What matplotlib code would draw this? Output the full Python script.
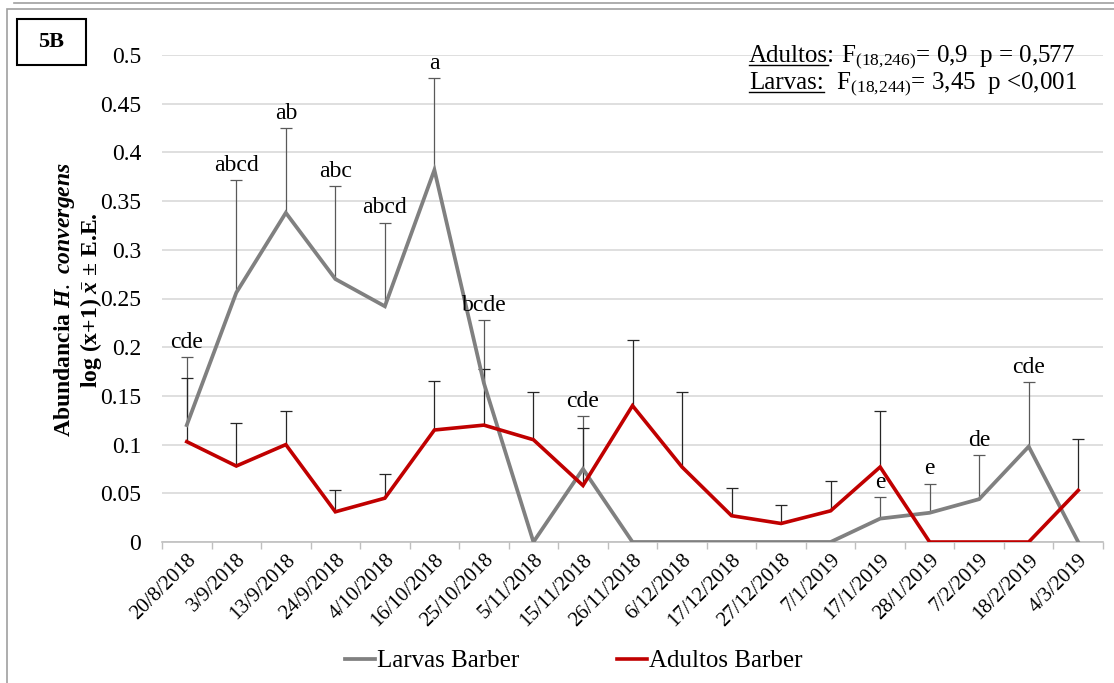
import numpy as np
import matplotlib
matplotlib.use("Agg")
import matplotlib.pyplot as plt
from matplotlib.lines import Line2D
from matplotlib.patches import Rectangle

plt.rcParams['font.family'] = ['Liberation Serif', 'DejaVu Serif']
plt.rcParams['mathtext.fontset'] = 'custom'
plt.rcParams['mathtext.rm'] = 'Liberation Serif'
plt.rcParams['mathtext.it'] = 'Liberation Serif:italic:bold'
plt.rcParams['mathtext.bf'] = 'Liberation Serif:bold'

fechas = ["20/8/2018", "3/9/2018", "13/9/2018", "24/9/2018", "4/10/2018",
          "16/10/2018", "25/10/2018", "5/11/2018", "15/11/2018", "26/11/2018",
          "6/12/2018", "17/12/2018", "27/12/2018", "7/1/2019", "17/1/2019",
          "28/1/2019", "7/2/2019", "18/2/2019", "4/3/2019"]

larvas = [0.120, 0.256, 0.338, 0.270, 0.242, 0.382, 0.163, 0.0, 0.075, 0.0,
          0.0, 0.0, 0.0, 0.0, 0.024, 0.030, 0.044, 0.098, 0.0]
larvas_ee = [0.070, 0.116, 0.087, 0.095, 0.086, 0.094, 0.065, 0.0, 0.054, 0.0,
             0.0, 0.0, 0.0, 0.0, 0.022, 0.030, 0.045, 0.066, 0.0]

adultos = [0.103, 0.078, 0.100, 0.031, 0.045, 0.115, 0.120, 0.105, 0.058, 0.140,
           0.077, 0.027, 0.019, 0.032, 0.077, 0.0, 0.0, 0.0, 0.053]
adultos_ee = [0.065, 0.044, 0.035, 0.022, 0.025, 0.050, 0.058, 0.049, 0.059, 0.067,
              0.077, 0.028, 0.019, 0.031, 0.057, 0.0, 0.0, 0.0, 0.053]

letras = {0: "cde", 1: "abcd", 2: "ab", 3: "abc", 4: "abcd", 5: "a", 6: "bcde",
          8: "cde", 14: "e", 15: "e", 16: "de", 17: "cde"}

fig = plt.figure(figsize=(11.14, 6.83), dpi=100)
ax = fig.add_axes([162 / 1114, 141 / 683, 941 / 1114, 487 / 683])

x = np.arange(len(fechas))
gris = '#808080'
rojo = '#c00000'

# upper-only error bars, skipped where the standard error is zero
def barras(vals, ee, color):
    vals = np.asarray(vals)
    ee = np.asarray(ee)
    m = ee > 0
    _, caps, _ = ax.errorbar(x[m], vals[m], yerr=[np.zeros(m.sum()), ee[m]],
                             fmt='none', ecolor=color, elinewidth=0.9,
                             capsize=4.5, capthick=0.9, zorder=2)
    caps[0].set_visible(False)

barras(larvas, larvas_ee, '#595959')
barras(adultos, adultos_ee, '#262626')

ax.plot(x, larvas, color=gris, lw=2.7, zorder=3, solid_joinstyle='miter')
ax.plot(x, adultos, color=rojo, lw=2.6, zorder=4, solid_joinstyle='miter')

for i, txt in letras.items():
    ax.annotate(txt, (x[i], larvas[i] + larvas_ee[i]), xytext=(0, 3),
                textcoords='offset points', ha='center', va='bottom', fontsize=17)

ax.set_xlim(-0.5, len(fechas) - 0.5)
ax.set_ylim(0, 0.5)
ax.set_yticks(np.arange(0, 0.501, 0.05))
ax.set_yticklabels(["0", "0.05", "0.1", "0.15", "0.2", "0.25", "0.3", "0.35",
                    "0.4", "0.45", "0.5"], fontsize=17)
ax.yaxis.grid(True, color='#d9d9d9', lw=1.2)
ax.set_axisbelow(True)
ax.tick_params(axis='y', length=0, pad=15)

ax.set_xticks(x)
ax.set_xticklabels(fechas, rotation=45, ha='right', rotation_mode='anchor',
                   fontsize=15)
ax.tick_params(axis='x', length=0, pad=6)
ax.set_xticks(np.arange(-0.5, len(fechas)), minor=True)
ax.tick_params(axis='x', which='minor', length=5, color='#bfbfbf', width=1)

for s in ['top', 'right', 'left']:
    ax.spines[s].set_visible(False)
ax.spines['bottom'].set_color('#bfbfbf')
ax.spines['bottom'].set_linewidth(1.2)

# axis title in two lines
fig.text(65 / 1114, 1 - 300 / 683, r"Abundancia $\mathit{H.\ convergens}$",
         rotation=90, ha='center', va='center', fontsize=17, fontweight='bold')
fig.text(91 / 1114, 1 - 300 / 683, r"log (x+1) $\bar{x}$ ± E.E.",
         rotation=90, ha='center', va='center', fontsize=17, fontweight='bold')

# panel tag
fig.patches.append(Rectangle((17 / 1114, 1 - 65 / 683), 69 / 1114, 46 / 683,
                             transform=fig.transFigure, fill=False,
                             edgecolor='black', lw=1.5))
fig.text(51 / 1114, 1 - 42 / 683, "5B", ha='center', va='center',
         fontsize=16, fontweight='bold')

# outer frames
fig.patches.append(Rectangle((7 / 1114, -0.01), 1.2, 1 - 9 / 683 + 0.01,
                             transform=fig.transFigure, fill=False,
                             edgecolor='#a0a0a0', lw=1.2))
fig.add_artist(Line2D([14 / 1114, 1.0], [1 - 3 / 683, 1 - 3 / 683],
                      transform=fig.transFigure, color='#a0a0a0', lw=1.2))

# ANOVA summary with underlined group names
fig.canvas.draw()
r = fig.canvas.get_renderer()

def linea(x0, y0, nombre, subrayado, resto):
    t1 = fig.text(x0, y0, nombre, fontsize=18, ha='left', va='baseline')
    bb = t1.get_window_extent(r)
    tu = fig.text(x0, y0, subrayado, fontsize=18, ha='left', va='baseline', alpha=0)
    bu = tu.get_window_extent(r)
    yl = y0 - 3 / 683
    fig.add_artist(Line2D([bu.x0 / 1114, bu.x1 / 1114], [yl, yl],
                          transform=fig.transFigure, color='black', lw=1.0))
    fig.text(bb.x1 / 1114, y0, resto, fontsize=18, ha='left', va='baseline')

linea(749 / 1114, 1 - 62 / 683, "Adultos:", "Adultos",
      r" F$_{(18{,}246)}$= 0,9  p = 0,577")
linea(749 / 1114, 1 - 89 / 683, "Larvas:", "Larvas:",
      r"  F$_{(18{,}244)}$= 3,45  p <0,001")

handles = [Line2D([], [], color=gris, lw=2.7), Line2D([], [], color=rojo, lw=2.6)]
fig.legend(handles, ["Larvas Barber", "Adultos Barber"], loc='center',
           bbox_to_anchor=(0.515, 1 - 661 / 683), ncol=2, frameon=False,
           fontsize=18, handlelength=1.2, handletextpad=0.1, columnspacing=3.9)

fig.savefig("out.png", dpi=100)
